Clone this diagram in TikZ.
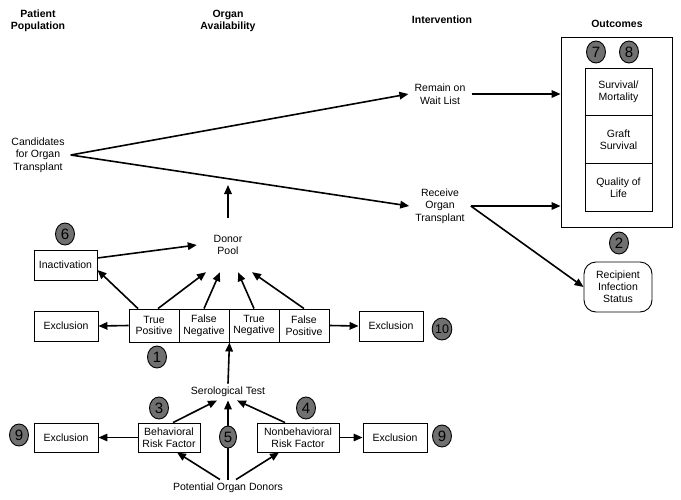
\documentclass[tikz,border=0pt]{standalone}
\usepackage{fontspec}
\setmainfont{Liberation Sans}
\usetikzlibrary{arrows.meta,shapes.geometric}

\definecolor{badgegray}{RGB}{112,112,112}

\tikzset{
  txt/.style={align=center,inner xsep=6pt},
  head/.style={txt,font=\fontsize{10.5}{12.5}\selectfont\bfseries},
  box/.style={draw,line width=0.9pt,align=center,inner sep=0pt,minimum width=64pt,minimum height=30pt,font=\fontsize{10.5}{11.8}\selectfont},
  cell/.style={box,minimum width=50pt,minimum height=33pt},
  badge/.style={ellipse,draw,line width=0.9pt,fill=badgegray,inner sep=0pt,minimum width=19pt,minimum height=22pt,font=\fontsize{15}{15}\selectfont},
  flow/.style={-{Triangle[length=9pt,width=7.5pt]},line width=1.6pt},
}

\begin{document}
\begin{tikzpicture}[x=1pt,y=-1pt,font=\fontsize{10.5}{12.5}\selectfont]
	\useasboundingbox (0,0) rectangle (681,499);

	%% column headings
	\node[head] (HeadPatient) at (38,21) {Patient\\Population};
	\node[head] (HeadOrgan) at (228,21) {Organ\\Availability};
	\node[head] (HeadIntervention) at (442,20) {Intervention};
	\node[head] (HeadOutcomes) at (617,24) {Outcomes};

	\node[txt] (Candidates) at (38,155) {Candidates\\for Organ\\Transplant};
	\node[txt] (WaitList) at (440,94) {Remain on\\Wait List};
	\node[txt] (Receive) at (440,206) {Receive\\Organ\\Transplant};

	%% outcomes
	\node[draw,line width=0.9pt,minimum width=111pt,minimum height=190pt] (OutcomeBox) at (616.5,132) {};
	\node[box,minimum width=67pt,minimum height=47.7pt] (Survival) at (618.5,92) {Survival/\\Mortality};
	\node[box,minimum width=67pt,minimum height=47.7pt] (Graft) at (618.5,139.7) {Graft\\Survival};
	\node[box,minimum width=67pt,minimum height=47.7pt] (Quality) at (618.5,187.4) {Quality of\\Life};
	\node[box,rounded corners=12pt,minimum width=68pt,minimum height=50pt] (Recipient) at (618,287) {Recipient\\Infection\\Status};

	\node[txt,minimum width=62pt,minimum height=54pt] (DonorPool) at (228,245) {Donor\\Pool};
	\coordinate (PoolJoin) at (228,185);
	\node[box,minimum width=63pt] (Inactivation) at (65.5,265) {Inactivation};

	%% test results
	\node[cell] (TP) at (154,325.5) {True\\Positive};
	\node[cell] (FN) at (204,325.5) {False\\Negative};
	\node[cell] (TN) at (254,325.5) {True\\Negative};
	\node[cell] (FP) at (304,325.5) {False\\Positive};
	\node[box] (ExclusionMid) at (66,326) {Exclusion};
	\node[box] (ExclusionMidRight) at (391,326) {Exclusion};

	\node[txt] (Serological) at (228,392) {Serological Test};
	\node[box,minimum width=62pt,minimum height=29pt] (Behavioral) at (169,437.5) {Behavioral\\Risk Factor};
	\node[box,minimum width=82pt,minimum height=29pt] (Nonbehavioral) at (298,437.5) {Nonbehavioral\\Risk Factor};
	\node[box,minimum height=29pt] (ExclusionLow) at (66,437.5) {Exclusion};
	\node[box,minimum height=29pt] (ExclusionLowRight) at (395,437.5) {Exclusion};
	\node[txt] (Potential) at (228,488) {Potential Organ Donors};

	\draw[flow] (Candidates.east) -- (WaitList.west);
	\draw[flow] (Candidates.east) -- (Receive.west);
	\draw[flow] (WaitList.east) -- (WaitList.east -| OutcomeBox.west);
	\draw[flow] (Receive.east) -- (Receive.east -| OutcomeBox.west);
	\draw[flow] (Receive.east) -- (Recipient.west);

	\draw[flow] (DonorPool.north) -- (PoolJoin);
	\draw[flow] ([yshift=7pt]Inactivation.east) -- (DonorPool.west);

	\draw[flow] (TP.west) -- (ExclusionMid.east);
	\draw[flow] (FP.east) -- (ExclusionMidRight.west);
	\draw[flow] ([xshift=-16pt]TP.north) -- ([yshift=-5pt]Inactivation.east);
	\draw[flow] ([xshift=4pt]TP.north) -- ([xshift=-22pt]DonorPool.south);
	\draw[flow] (FN.north) -- ([xshift=-8pt]DonorPool.south);
	\draw[flow] (TN.north) -- ([xshift=10pt]DonorPool.south);
	\draw[flow] (FP.north) -- ([xshift=24pt]DonorPool.south);

	\draw[flow] (Serological.north) -- (FN.south east);
	\draw[flow] ([xshift=4pt]Behavioral.north) -- ([xshift=-11pt]Serological.south);
	\draw[flow] ([xshift=-13pt]Nonbehavioral.north) -- ([xshift=9pt]Serological.south);
	\draw[flow] (Potential.north) -- (Serological.south);
	\draw[flow] ([xshift=-8pt]Potential.north) -- ([xshift=8pt]Behavioral.south);
	\draw[flow] ([xshift=8pt]Potential.north) -- ([xshift=-19pt]Nonbehavioral.south);
	\draw[flow] (Behavioral.west) -- (ExclusionLow.east);
	\draw[flow] (Nonbehavioral.east) -- (ExclusionLowRight.west);

	%% numbered markers
	\node[badge] (B1) at (157,357) {1};
	\node[badge] (B2) at (619,243) {2};
	\node[badge] (B3) at (159,408) {3};
	\node[badge] (B4) at (306,408) {4};
	\node[badge,minimum width=17pt] (B5) at (228,437) {5};
	\node[badge] (B6) at (65,234) {6};
	\node[badge] (B7) at (596,52) {7};
	\node[badge] (B8) at (629,52) {8};
	\node[badge] (B9Left) at (19,435) {9};
	\node[badge] (B9Right) at (442,436) {9};
	\node[badge,font=\fontsize{12.5}{12.5}\selectfont] (B10) at (442,329) {10};
\end{tikzpicture}
\end{document}
